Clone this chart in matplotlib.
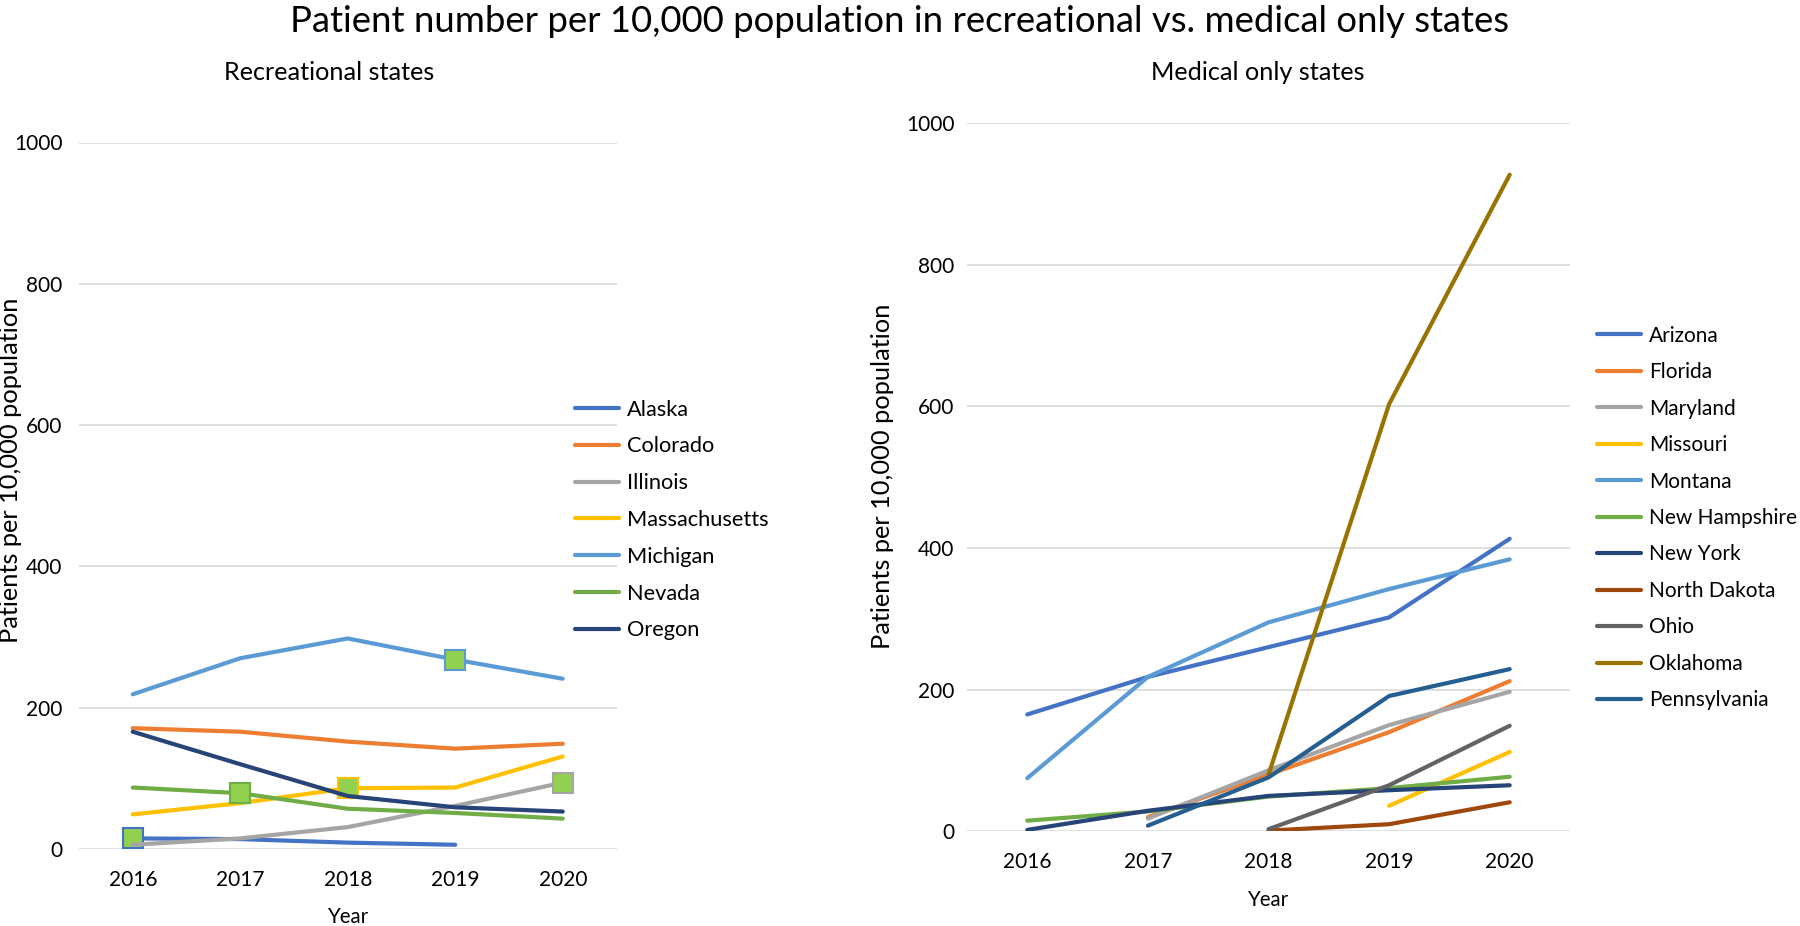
import numpy as np
import matplotlib
matplotlib.use("Agg")
import matplotlib.pyplot as plt

plt.rcParams['font.family'] = ['Lato', 'DejaVu Sans']

years = ["2016", "2017", "2018", "2019", "2020"]
nan = np.nan

# recreational states
rec_states = ["Alaska", "Colorado", "Illinois", "Massachusetts", "Michigan", "Nevada", "Oregon"]
alaska = [15, 14, 9, 6, nan]
colorado = [171, 166, 152, 142, 149]
illinois = [6, 15, 31, 61, 94]
massachusetts = [49, 65, 86, 87, 131]
michigan = [219, 270, 298, 268, 241]
nevada = [87, 79, 57, 51, 43]
oregon = [166, 120, 75, 59, 53]
rec_values = [alaska, colorado, illinois, massachusetts, michigan, nevada, oregon]
# one highlighted point per series (year index), None = no marker
rec_marker_idx = [0, None, 4, 2, 3, 1, None]

# medical only states
med_states = ["Arizona", "Florida", "Maryland", "Missouri", "Montana", "New Hampshire",
              "New York", "North Dakota", "Ohio", "Oklahoma", "Pennsylvania"]
arizona = [165, 218, 260, 302, 413]
florida = [nan, 20, 80, 140, 212]
maryland = [nan, 18, 86, 150, 197]
missouri = [nan, nan, nan, 36, 112]
montana = [75, 218, 295, 342, 384]
new_hampshire = [15, 28, 49, 61, 77]
new_york = [2, 29, 50, 58, 65]
north_dakota = [nan, nan, 1, 10, 41]
ohio = [nan, nan, 3, 65, 149]
oklahoma = [nan, nan, 80, 603, 927]
pennsylvania = [nan, 8, 76, 191, 229]
med_values = [arizona, florida, maryland, missouri, montana, new_hampshire,
              new_york, north_dakota, ohio, oklahoma, pennsylvania]

colors = ["#4472C4", "#ED7D31", "#A5A5A5", "#FFC000", "#5B9BD5", "#70AD47",
          "#264478", "#9E480E", "#636363", "#997300", "#255E91"]
marker_fill = "#92D050"

W, H = 1800, 926
fig = plt.figure(figsize=(18, 9.26), dpi=100)


def frac(x0, y_top, x1, y_bot):
    return [x0 / W, 1 - y_bot / H, (x1 - x0) / W, (y_bot - y_top) / H]


def style_axes(ax):
    ax.set_xlim(-0.5, 4.5)
    ax.set_ylim(0, 1000)
    ax.set_yticks(np.arange(0, 1001, 200))
    ax.set_xticks(range(len(years)))
    ax.set_xticklabels(years)
    ax.grid(axis='y', color='#D9D9D9', linewidth=1.2)
    ax.set_axisbelow(True)
    for s in ax.spines.values():
        s.set_visible(False)
    ax.tick_params(axis='both', length=0, labelsize=15, colors='#000000')
    ax.tick_params(axis='x', pad=15)


x = np.arange(len(years))

ax1 = fig.add_axes(frac(79, 142.5, 616.5, 849))
style_axes(ax1)
ax1.tick_params(axis='y', pad=12)
handles1 = []
for name, vals, c, mi in zip(rec_states, rec_values, colors, rec_marker_idx):
    h, = ax1.plot(x, vals, color=c, lw=3, solid_capstyle='round', label=name)
    handles1.append(h)
    if mi is not None:
        ax1.plot(x[mi], vals[mi], marker='s', ms=13.8, mfc=marker_fill, mec=c, mew=1.5,
                 linestyle='none', zorder=h.get_zorder())

ax2 = fig.add_axes(frac(967, 123, 1570, 831.3))
style_axes(ax2)
ax2.tick_params(axis='y', pad=9)
handles2 = []
for name, vals, c in zip(med_states, med_values, colors):
    h, = ax2.plot(x, vals, color=c, lw=3, solid_capstyle='round', label=name)
    handles2.append(h)

leg_kw = dict(frameon=False, handletextpad=0.4, borderpad=0, borderaxespad=0,
              loc='center left')
fig.legend(handles=handles1, bbox_to_anchor=(575 / W, 1 - 520 / H), fontsize=15.7,
           handlelength=2.0, labelspacing=0.77, **leg_kw)
fig.legend(handles=handles2, bbox_to_anchor=(1597 / W, 1 - 518 / H), fontsize=15.0,
           handlelength=2.1, labelspacing=0.79, **leg_kw)

fig.text(0.5, 1 - 21 / H,
         "Patient number per 10,000 population in recreational vs. medical only states",
         ha='center', va='center', fontsize=26.3)
fig.text(329.5 / W, 1 - 72 / H, "Recreational states", ha='center', va='center', fontsize=18.2)
fig.text(1258 / W, 1 - 72 / H, "Medical only states", ha='center', va='center', fontsize=18.2)

fig.text(11 / W, 1 - 470 / H, "Patients per 10,000 population", rotation=90,
         ha='center', va='center', fontsize=18.3)
fig.text(883 / W, 1 - 476 / H, "Patients per 10,000 population", rotation=90,
         ha='center', va='center', fontsize=18.3)

fig.text(348 / W, 1 - 917 / H, "Year", ha='center', va='center', fontsize=14.8)
fig.text(1268 / W, 1 - 900 / H, "Year", ha='center', va='center', fontsize=14.8)

fig.savefig("out.png", dpi=100, facecolor='white')
